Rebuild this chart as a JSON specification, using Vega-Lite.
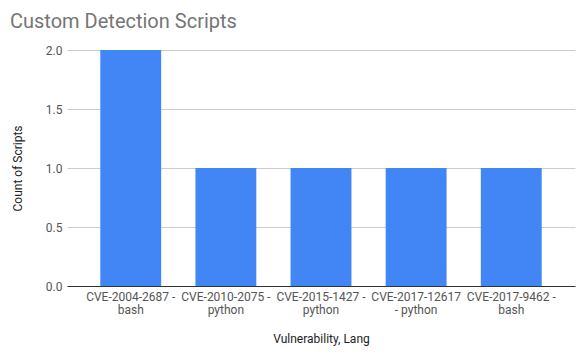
{
  "$schema": "https://vega.github.io/schema/vega-lite/v6.json",
  "width": 508,
  "height": 236,
  "autosize": {"type": "none"},
  "padding": {"left": 67, "top": 50, "right": 11, "bottom": 71},
  "background": "white",
  "config": {
    "view": {"stroke": null},
    "font": "Roboto",
    "axis": {"labelFont": "Roboto", "titleFont": "Roboto"}
  },
  "title": {
    "text": "Custom Detection Scripts",
    "anchor": "start",
    "frame": "group",
    "dx": -57,
    "fontSize": 20,
    "font": "Roboto",
    "fontWeight": "normal",
    "color": "#757575",
    "offset": -4,
    "baseline": "alphabetic"
  },
  "data": {
    "values": [
      {"vuln": "CVE-2004-2687 - bash", "count": 2},
      {"vuln": "CVE-2010-2075 - python", "count": 1},
      {"vuln": "CVE-2015-1427 - python", "count": 1},
      {"vuln": "CVE-2017-12617 - python", "count": 1},
      {"vuln": "CVE-2017-9462 - bash", "count": 1}
    ]
  },
  "mark": {"type": "bar", "color": "#4285F4"},
  "encoding": {
    "x": {
      "field": "vuln",
      "type": "nominal",
      "sort": null,
      "scale": {"paddingInner": 0.36, "paddingOuter": 0.35},
      "axis": {
        "title": "Vulnerability, Lang",
        "titleFontSize": 12,
        "titleFontWeight": "normal",
        "titleColor": "#222222",
        "titlePadding": 18,
        "labelAngle": 0,
        "labelFontSize": 12,
        "labelColor": "#555555",
        "labelPadding": 5,
        "labelLineHeight": 13,
        "ticks": false,
        "domainColor": "#333333",
        "labelExpr": "datum.value == 'CVE-2017-12617 - python' ? ['CVE-2017-12617', '- python'] : [split(datum.value, ' - ')[0] + ' -', split(datum.value, ' - ')[1]]"
      }
    },
    "y": {
      "field": "count",
      "type": "quantitative",
      "scale": {"domain": [0, 2], "nice": false},
      "axis": {
        "title": "Count of Scripts",
        "titleFontSize": 12,
        "titleFontWeight": "normal",
        "titleColor": "#222222",
        "titlePadding": 21,
        "values": [0, 0.5, 1, 1.5, 2],
        "format": ".1f",
        "labelFontSize": 12,
        "labelColor": "#555555",
        "labelPadding": 5,
        "ticks": false,
        "domain": false,
        "gridColor": "#cccccc"
      }
    }
  }
}
